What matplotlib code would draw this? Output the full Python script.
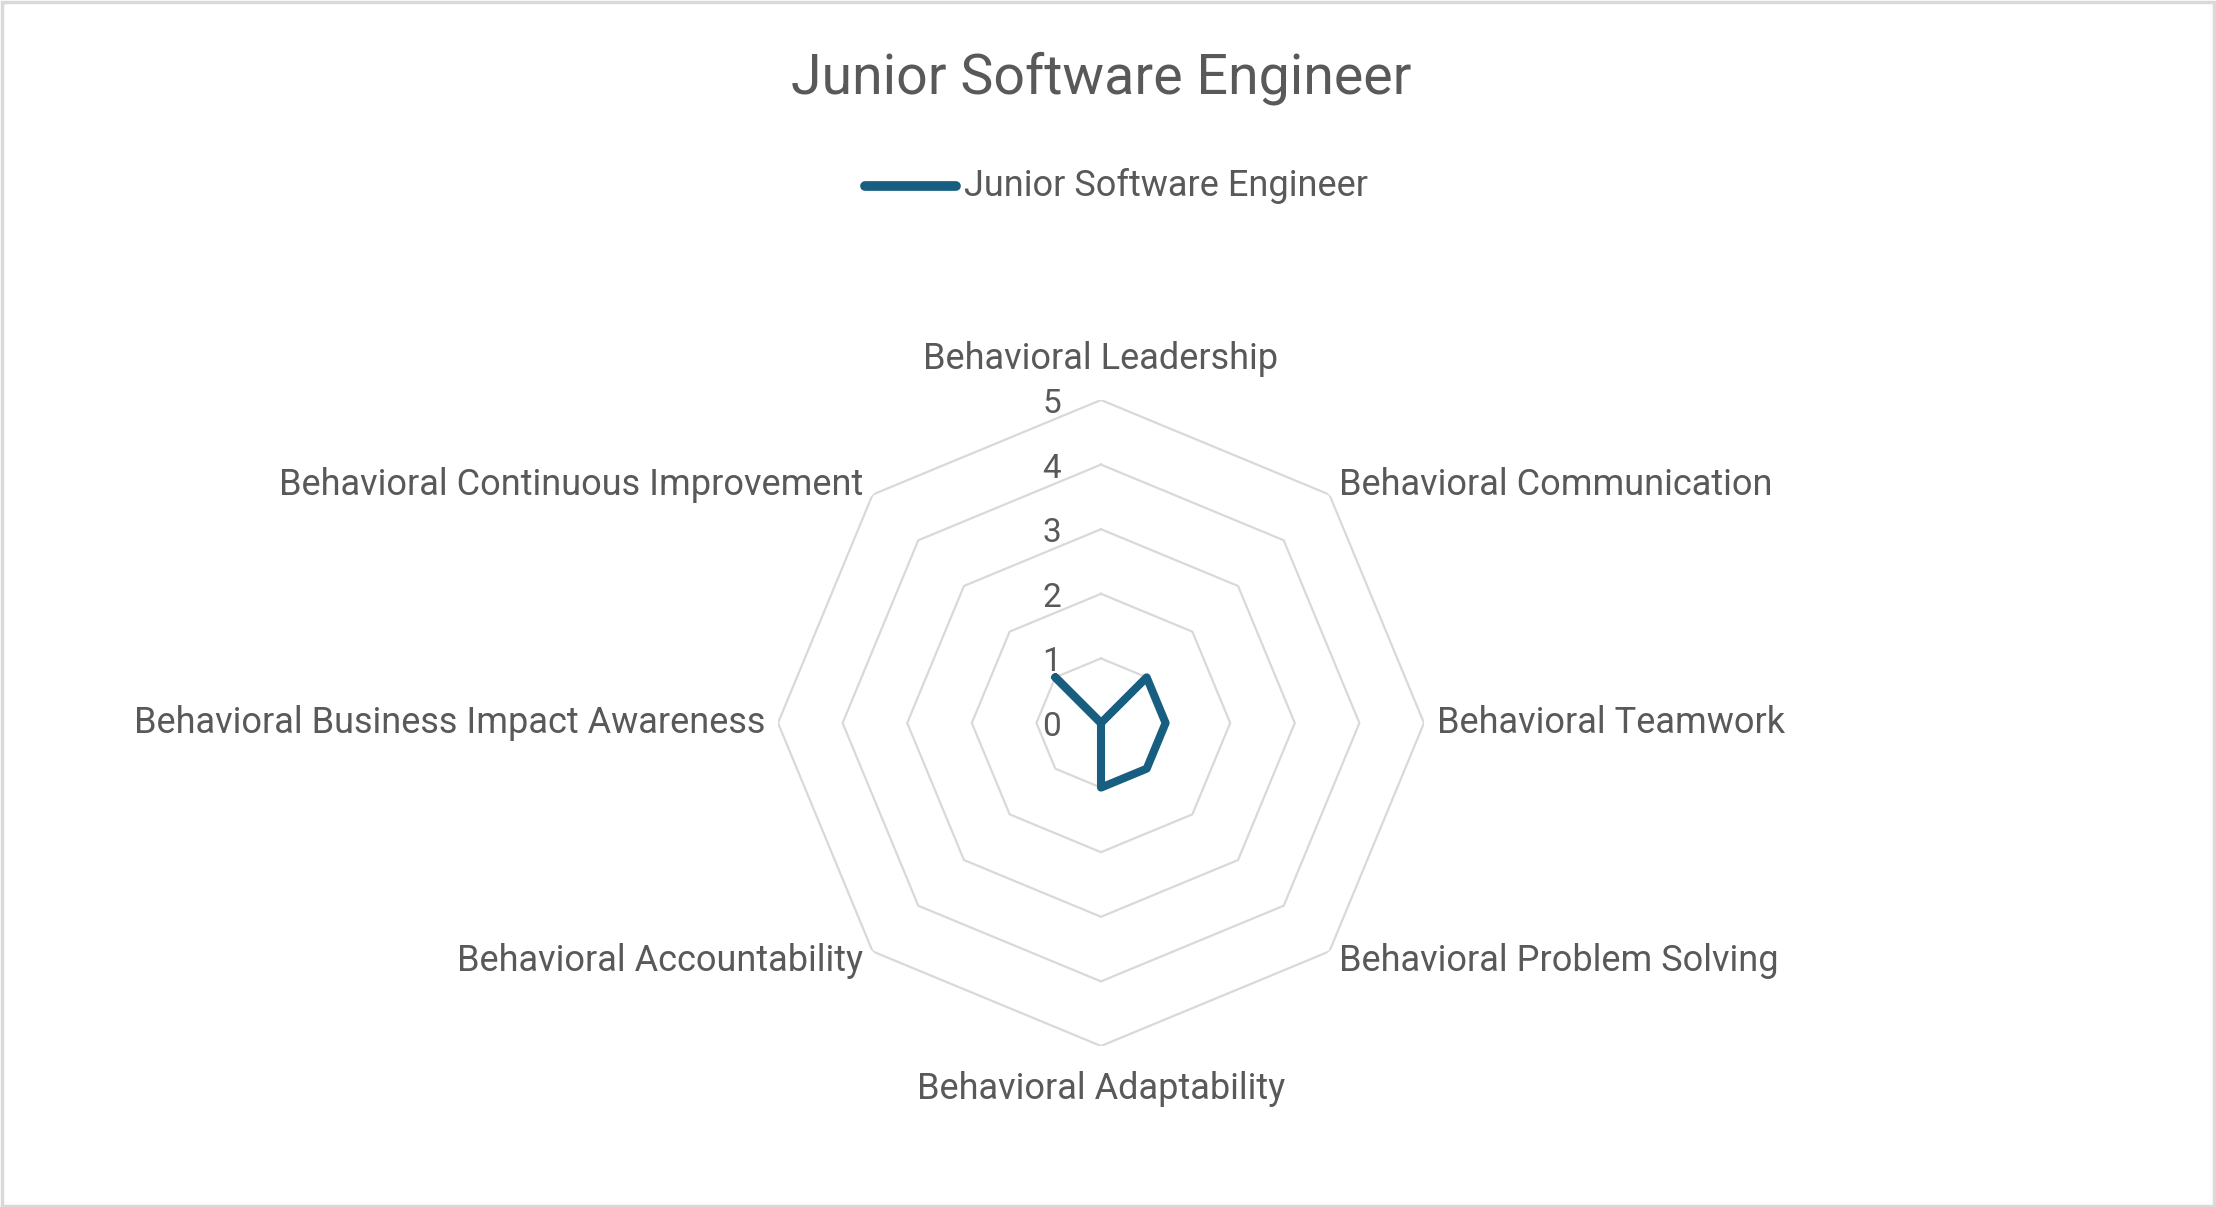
import numpy as np
import matplotlib.pyplot as plt
import matplotlib.transforms as mtransforms

# ===== DONNEES =====
categories = [
    "Behavioral Leadership",
    "Behavioral Communication",
    "Behavioral Teamwork",
    "Behavioral Problem Solving",
    "Behavioral Adaptability",
    "Behavioral Accountability",
    "Behavioral Business Impact Awareness",
    "Behavioral Continuous Improvement",
]
scores = [0, 1, 1, 1, 1, 0, 0, 1]
ring_levels = [0, 1, 2, 3, 4, 5]
series_name = "Junior Software Engineer"

line_color = "#175E80"
text_color = "#595959"
grid_color = "#D9D9D9"

plt.rcParams['font.family'] = ['Roboto', 'DejaVu Sans']

W, H = 2216, 1207
fig = plt.figure(figsize=(W / 100, H / 100), dpi=100)

# bordure du graphique
fig.patches.append(plt.Rectangle((0.001, 0.001), 0.998, 0.997, transform=fig.transFigure,
                                 fill=False, edgecolor="#D9D9D9", linewidth=2.5))

cx, cy, R = 1101, 723, 323
ax = fig.add_axes([(cx - R) / W, (H - cy - R) / H, 2 * R / W, 2 * R / H], projection='polar')
ax.set_theta_zero_location('N')
ax.set_theta_direction(-1)
ax.set_ylim(0, 5)
ax.axis('off')

n = len(categories)
angles = np.linspace(0, 2 * np.pi, n, endpoint=False)
closed = np.append(angles, angles[0])

# grille octogonale
for lv in ring_levels[1:]:
    ax.plot(closed, [lv] * (n + 1), color=grid_color, linewidth=1.6, zorder=1)

# serie
vals = scores + scores[:1]
ax.plot(closed, vals, color=line_color, linewidth=5.8, solid_joinstyle='round',
        solid_capstyle='round', zorder=3)

# etiquettes des categories
for ang, lab in zip(angles, categories):
    s, c = np.sin(ang), np.cos(ang)
    if abs(s) < 0.01:
        ha = 'center'
    elif s > 0:
        ha = 'left'
    else:
        ha = 'right'
    r = 5.2
    if c > 0.9:
        va, r = 'bottom', 5.35
    elif c < -0.9:
        va, r = 'top', 5.38
    else:
        va = 'center'
    ax.text(ang, r, lab, ha=ha, va=va, fontsize=26, color=text_color)

# etiquettes des niveaux
offset = mtransforms.ScaledTranslation(-0.4, -0.04, fig.dpi_scale_trans)
for lv in ring_levels:
    ax.text(0, lv, str(lv), ha='right', va='center', fontsize=24, color=text_color,
            transform=ax.transData + offset)

# titre et legende
fig.text(cx / W, 1 - 78 / H, series_name, ha='center', va='center', fontsize=40, color=text_color)
fig.add_artist(plt.Line2D([865 / W, 956 / W], [1 - 186 / H, 1 - 186 / H], color=line_color,
                          linewidth=7, solid_capstyle='round'))
fig.text(964 / W, 1 - 186 / H, series_name, ha='left', va='center', fontsize=26, color=text_color)

plt.savefig("out.png", dpi=100)
